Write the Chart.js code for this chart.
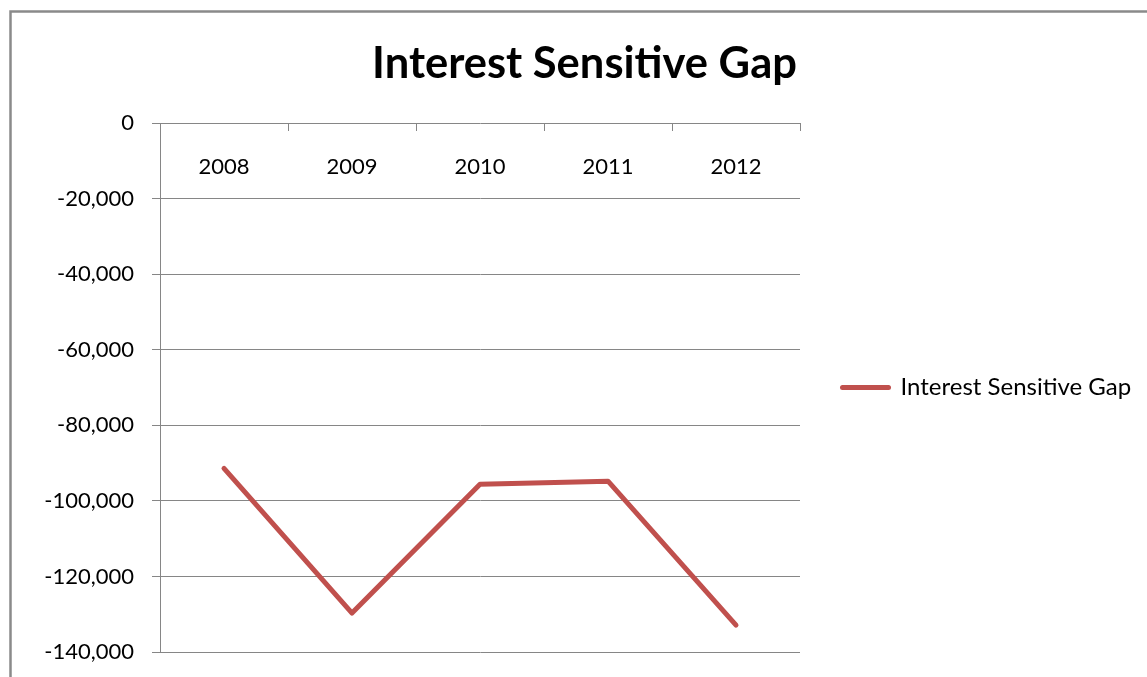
<!DOCTYPE html>
<html><head><meta charset="utf-8">
<script src="https://cdn.jsdelivr.net/npm/chart.js@4.4.0/dist/chart.umd.min.js"></script>
<style>html,body{margin:0;padding:0;background:#fff;} #wrap{width:1147px;height:677px;position:relative;overflow:hidden;}</style>
</head><body><div id="wrap"><canvas id="c" width="1147" height="677"></canvas></div>
<script>
const categories = ['2008', '2009', '2010', '2011', '2012'];
const gapValues = [-91400, -129700, -95600, -94800, -132900];
const yTickValues = [0, -20000, -40000, -60000, -80000, -100000, -120000, -140000];
const seriesName = 'Interest Sensitive Gap';
const chartTitle = 'Interest Sensitive Gap';

const lineColor = '#C0504D';
const gridColor = '#868686';
const fontFamily = 'Lato';
const tickSize = 22;
const legendSize = 24;
const titleSize = 43.5;

const L = 22, R = 0;
const legendBoxWidth = 347 - R;
const legPad = 42.5, legLineW = 46;

const borderPlugin = {
  id: 'outerBorder',
  beforeDraw(chart) {
    const ctx = chart.ctx;
    ctx.save();
    ctx.strokeStyle = '#8a8a8a';
    ctx.lineWidth = 2.5;
    ctx.strokeRect(10.5, 11.5, 2000, 2000);
    ctx.restore();
  }
};

const legendWidthPlugin = {
  id: 'legendWidth',
  beforeLayout(chart) {
    const lg = chart.legend;
    if (lg && !lg._wPatched) {
      const origFit = lg.fit;
      lg.fit = function () { origFit.call(this); this.width = legendBoxWidth; };
      lg._wPatched = true;
    }
  }
};

const topAxisPlugin = {
  id: 'topAxis',
  beforeDatasetsDraw(chart) {
    const ctx = chart.ctx, xs = chart.scales.x, top = chart.chartArea.top;
    const step = xs.getPixelForValue(1) - xs.getPixelForValue(0);
    const start = xs.getPixelForValue(0) - step / 2;
    ctx.save();
    ctx.strokeStyle = gridColor;
    ctx.lineWidth = 1;
    for (let i = 0; i <= categories.length; i++) {
      const x = Math.round(start + i * step) + 0.5;
      ctx.beginPath();
      ctx.moveTo(x, top);
      ctx.lineTo(x, top + 8);
      ctx.stroke();
    }
    ctx.fillStyle = '#000';
    ctx.font = tickSize + 'px ' + fontFamily;
    ctx.textAlign = 'center';
    ctx.textBaseline = 'middle';
    categories.forEach((c, i) => ctx.fillText(c, xs.getPixelForValue(i), top + 44));
    ctx.restore();
  }
};

const chart = new Chart(document.getElementById('c'), {
  type: 'line',
  data: {
    labels: categories,
    datasets: [{
      label: seriesName,
      data: gapValues,
      borderColor: lineColor,
      backgroundColor: lineColor,
      borderWidth: 5,
      borderCapStyle: 'round',
      borderJoinStyle: 'round',
      pointRadius: 0,
      pointHoverRadius: 0,
      tension: 0,
      fill: false
    }]
  },
  options: {
    responsive: false,
    animation: false,
    events: [],
    layout: { padding: { top: 0, left: L, right: R, bottom: 25 } },
    scales: {
      x: { type: 'category', display: false, offset: true },
      y: {
        position: 'left',
        min: -140000,
        max: 0,
        afterBuildTicks(s) { s.ticks = yTickValues.map(v => ({ value: v })); },
        afterFit(s) { s.width = 160 - L; s.paddingBottom = 0; s.paddingTop = 0; },
        ticks: {
          padding: 18,
          color: '#000',
          font: { family: fontFamily, size: tickSize },
          callback: v => v.toLocaleString('en-US')
        },
        grid: { color: gridColor, tickColor: gridColor, tickLength: 8, lineWidth: 1 },
        border: { display: true, color: gridColor, width: 1 }
      }
    },
    plugins: {
      title: {
        display: true,
        text: chartTitle,
        color: '#000',
        font: { family: fontFamily, size: titleSize, weight: 'bold', lineHeight: 1.2 },
        padding: { top: 37.6, bottom: 123 - 37.6 - titleSize * 1.2 }
      },
      legend: {
        display: true,
        position: 'right',
        align: 'center',
        fullSize: false,
        labels: {
          usePointStyle: true,
          pointStyle: 'line',
          pointStyleWidth: legLineW,
          padding: legPad,
          color: '#000',
          font: { family: fontFamily, size: legendSize },
          generateLabels(ch) {
            const items = Chart.defaults.plugins.legend.labels.generateLabels(ch);
            items.forEach(it => { it.lineWidth = 5; it.strokeStyle = lineColor; it.lineCap = 'round'; it.pointStyle = 'line'; });
            return items;
          }
        }
      },
      tooltip: { enabled: false }
    }
  },
  plugins: [borderPlugin, legendWidthPlugin, topAxisPlugin]
});
</script></body></html>
